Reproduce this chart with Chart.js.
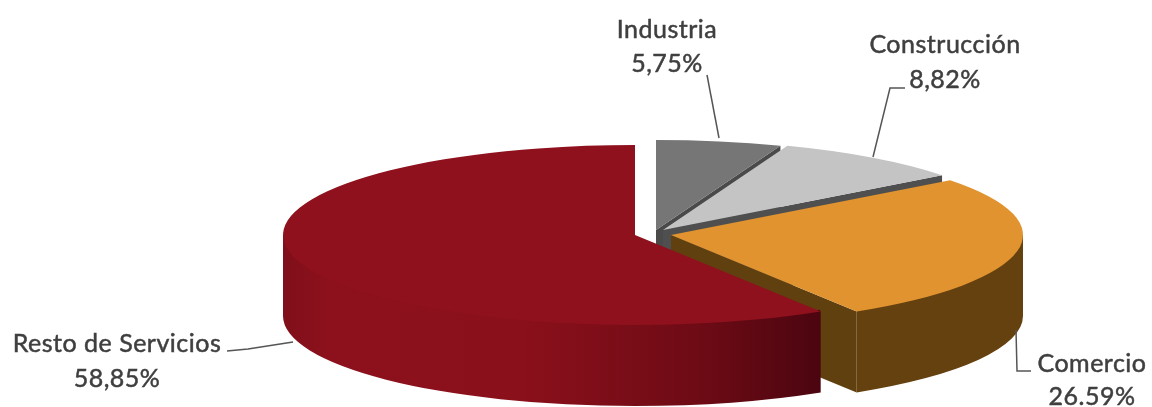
<!DOCTYPE html>
<html>
<head>
<meta charset="utf-8">
<style>html,body{margin:0;padding:0;background:#fff}canvas{display:block}</style>
<script src="https://cdn.jsdelivr.net/npm/chart.js@4"></script>
</head>
<body>
<canvas id="c" width="1152" height="407"></canvas>
<script>
const categories = ['Industria', 'Construcción', 'Comercio', 'Resto de Servicios'];
const shares = [5.75, 8.82, 26.59, 58.85];
const shareLabels = ['5,75%', '8,82%', '26.59%', '58,85%'];
const sliceColors = ['#767676', '#c4c4c4', '#e0932f', '#8e111d'];

// Layout of the tilted, exploded pie
const RADIUS = 90, STRETCH_X = 352 / 90, DEPTH = 81;
const CENTERS = [[656, 230], [663, 230], [671, 235], [635, 235]];
const CUT_COLORS = ['#4a4a4a', '#4f4f4f', '#61400f', null];
const LABEL_LAYOUT = [
  { x: 667, y: [38, 72], line: [[707, 75], [719, 138]] },
  { x: 945, y: [53, 88], line: [[905, 88], [890, 88], [873, 157]] },
  { x: 1092, y: [372, 405], line: [[1016, 330], [1017, 371], [1031, 371]] },
  { x: 117, y: [352, 387], line: [[227, 351], [248, 349], [293, 342]] }
];

function wallFill(ctx, i) {
  if (i === 3) {
    const g = ctx.createLinearGradient(283, 0, 820, 0);
    g.addColorStop(0, '#7f0f1a');
    g.addColorStop(0.08, '#8c111c');
    g.addColorStop(0.45, '#8a101b');
    g.addColorStop(0.78, '#6d0b15');
    g.addColorStop(1, '#4c0510');
    return g;
  }
  return '#65410f';
}

const pie3d = {
  id: 'pie3d',
  beforeDatasetsDraw(chart) {
    const ctx = chart.ctx;
    const arcs = chart.getDatasetMeta(0).data;
    const rx = RADIUS * STRETCH_X, ry = RADIUS;
    arcs.forEach((arc, i) => {
      const [cx, cy] = CENTERS[i];
      const a0 = arc.startAngle, a1 = arc.endAngle;
      // cut face on the trailing edge of the wedge
      if (CUT_COLORS[i]) {
        const ex = cx + rx * Math.cos(a1), ey = cy + ry * Math.sin(a1);
        ctx.fillStyle = CUT_COLORS[i];
        ctx.beginPath();
        ctx.moveTo(cx, cy);
        ctx.lineTo(ex, ey);
        ctx.lineTo(ex, ey + DEPTH);
        ctx.lineTo(cx, cy + DEPTH);
        ctx.closePath();
        ctx.fill();
      }
      // outer wall: only the part facing the viewer; its upper edge tucks under the top face
      const s = Math.max(a0, 0), e = Math.min(a1, Math.PI);
      if (e > s) {
        ctx.fillStyle = wallFill(ctx, i);
        ctx.beginPath();
        ctx.moveTo(cx + rx * Math.cos(s), cy + ry * Math.sin(s));
        ctx.ellipse(cx, cy, rx - 2, ry - 2, 0, s, e);
        ctx.lineTo(cx + rx * Math.cos(e), cy + ry * Math.sin(e));
        ctx.ellipse(cx, cy + DEPTH, rx, ry, 0, e, s, true);
        ctx.closePath();
        ctx.fill();
      }
      // top face: the library's own arc, flattened
      ctx.save();
      ctx.translate(cx, cy);
      ctx.scale(STRETCH_X, 1);
      ctx.translate(-arc.x, -arc.y);
      arc.draw(ctx);
      ctx.restore();
    });
    // leader lines and labels
    ctx.strokeStyle = '#555';
    ctx.lineWidth = 1.5;
    LABEL_LAYOUT.forEach(l => {
      ctx.beginPath();
      l.line.forEach((p, k) => k ? ctx.lineTo(p[0], p[1]) : ctx.moveTo(p[0], p[1]));
      ctx.stroke();
    });
    ctx.fillStyle = '#3f3f3f';
    ctx.strokeStyle = '#3f3f3f';
    ctx.lineWidth = 0.5;
    ctx.font = '25px Lato, "Open Sans", sans-serif';
    ctx.letterSpacing = '0.5px';
    ctx.textAlign = 'center';
    ctx.textBaseline = 'alphabetic';
    LABEL_LAYOUT.forEach((l, i) => {
      [categories[i], shareLabels[i]].forEach((t, k) => {
        ctx.fillText(t, l.x, l.y[k]);
        ctx.strokeText(t, l.x, l.y[k]);
      });
    });
    return false;
  }
};

new Chart(document.getElementById('c'), {
  type: 'pie',
  data: {
    labels: categories,
    datasets: [{ data: shares, backgroundColor: sliceColors, borderWidth: 0, radius: RADIUS }]
  },
  options: {
    responsive: false,
    animation: false,
    plugins: { legend: { display: false }, tooltip: { enabled: false } }
  },
  plugins: [pie3d]
});
</script>
</body>
</html>
